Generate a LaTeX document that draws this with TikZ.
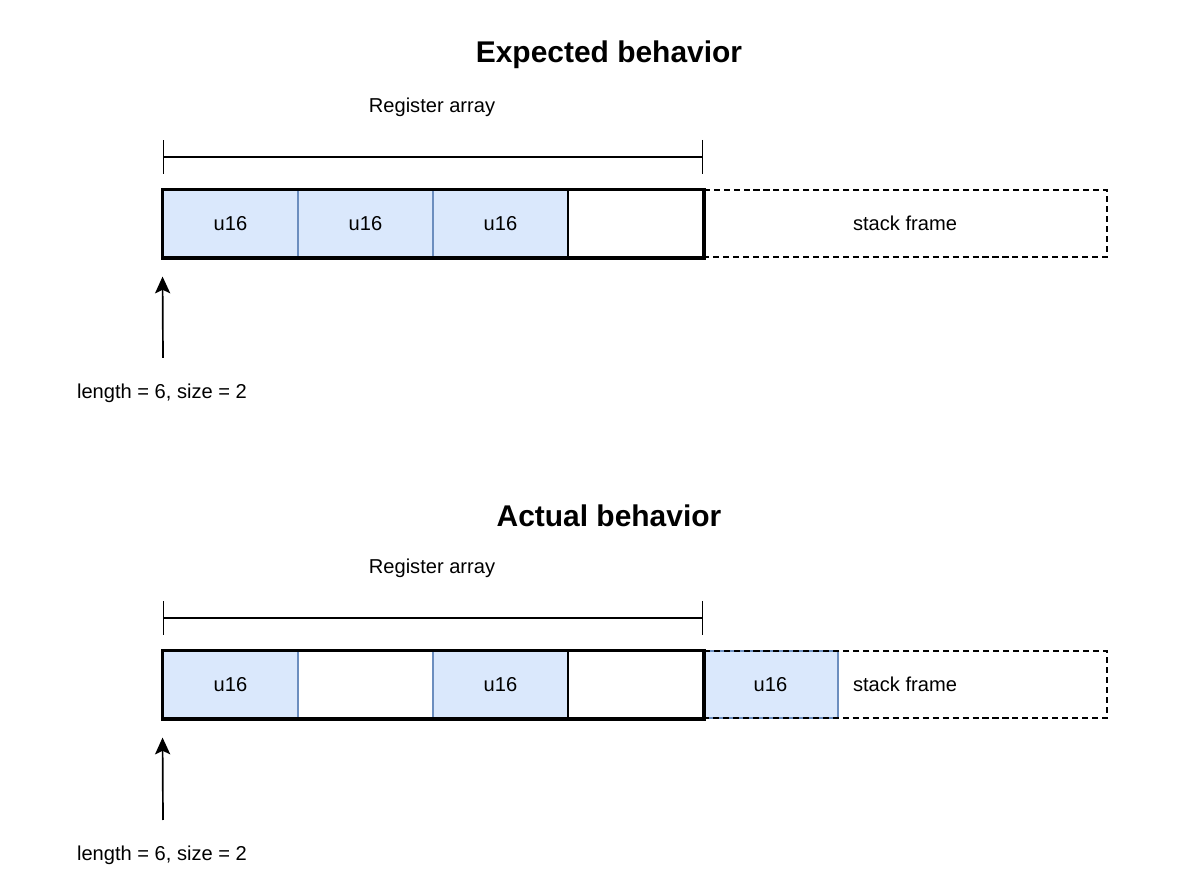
\documentclass[tikz,border=0pt]{standalone}
\usepackage{fontspec}
\setmainfont{Liberation Sans}
\usetikzlibrary{arrows.meta}
\definecolor{wordfill}{HTML}{DAE8FC}
\definecolor{wordline}{HTML}{6C8EBF}
\begin{document}
\begin{tikzpicture}[
  font=\fontsize{14.3}{17}\selectfont,
  heading/.style={font=\fontsize{21.3}{25}\selectfont\bfseries},
  word/.style={draw=wordline,fill=wordfill,line width=0.8pt,minimum width=3.375cm,minimum height=1.675cm,inner sep=0pt},
  hole/.style={word,fill=white},
  lastslot/.style={word,draw=black,fill=white,line width=1.4pt},
  stackbox/.style={draw,line width=1.3pt,dash pattern=on 4.3pt off 2.8pt,minimum width=10.1cm,minimum height=1.675cm,inner sep=0pt},
  outline/.style={line width=2.3pt},
  span/.style={line width=0.9pt,arrows={Bar[width=0.85cm]-Bar[width=0.85cm]}},
  ptr/.style={line width=1.2pt,arrows={-Stealth[length=0.42cm,width=0.38cm,inset=0.09cm]},shorten >=0.475cm}
]
\useasboundingbox (0,0) rectangle (30,22.15);

\node[heading] (titleA) at (15.225,20.775) {Expected behavior};
\node (regA) at (10.8,19.475) {Register array};
\coordinate (brA1) at (4.075,18.225);
\coordinate (brA2) at (17.575,18.225);
\draw[span] (brA1) -- (brA2);
\node[word] (a1) at (5.7625,16.5625) {u16};
\node[word] (a2) at (9.1375,16.5625) {u16};
\node[word] (a3) at (12.5125,16.5625) {u16};
\node[lastslot] (a4) at (15.8875,16.5625) {};
\node[stackbox] (stackA) at (22.625,16.5625) {stack frame};
\draw[outline] (a1.north west) rectangle (a4.south east);
\coordinate (tailA) at (4.075,13.2);
\draw[ptr] (tailA) -- (a1.south west);
\node (lenA) at (4.05,12.325) {length = 6, size = 2};

\node[heading] (titleB) at (15.225,9.25) {Actual behavior};
\node (regB) at (10.8,7.95) {Register array};
\coordinate (brB1) at (4.075,6.7);
\coordinate (brB2) at (17.575,6.7);
\draw[span] (brB1) -- (brB2);
\node[word] (b1) at (5.7625,5.0375) {u16};
\node[hole] (b2) at (9.1375,5.0375) {};
\node[word] (b3) at (12.5125,5.0375) {u16};
\node[lastslot] (b4) at (15.8875,5.0375) {};
\node[word] (b5) at (19.2625,5.0375) {u16};
\node[stackbox] (stackB) at (22.625,5.0375) {stack frame};
\draw[outline] (b1.north west) rectangle (b4.south east);
\coordinate (tailB) at (4.075,1.65);
\draw[ptr] (tailB) -- (b1.south west);
\node (lenB) at (4.05,0.775) {length = 6, size = 2};
\end{tikzpicture}
\end{document}
